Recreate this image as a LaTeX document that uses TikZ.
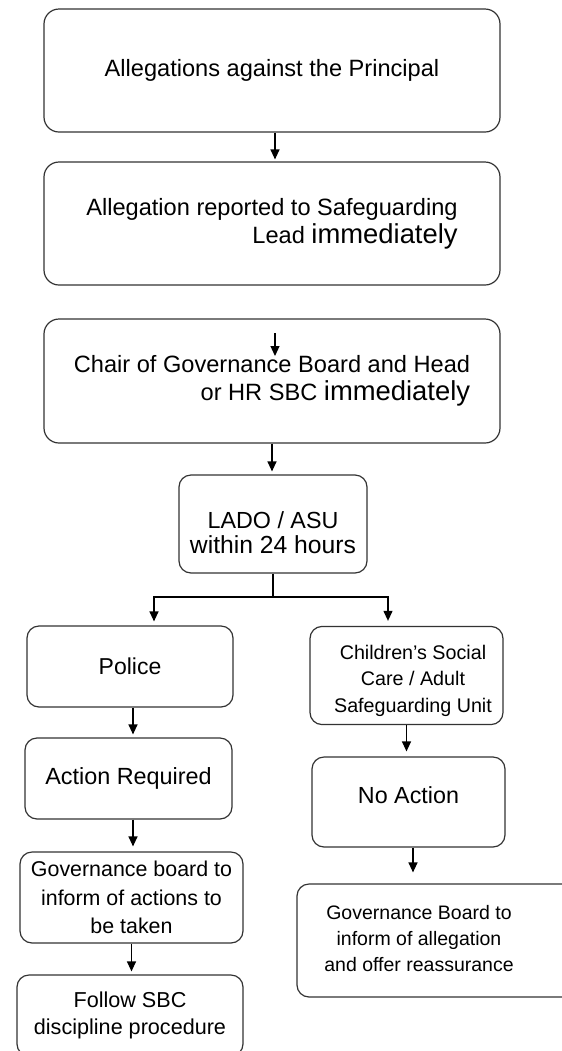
\documentclass[tikz,border=0pt]{standalone}
\usepackage{fontspec}
\setmainfont{Liberation Sans}
\usetikzlibrary{arrows.meta}

\newcommand{\immtext}{{\fontsize{13.7}{14}\selectfont immediately}}

\begin{document}
\begin{tikzpicture}[x=0.5pt,y=-0.5pt,
    flowbox/.style={draw=black!80, line width=0.6pt, rounded corners=6pt, align=center, inner sep=2pt, font=\fontsize{11.8}{14}\selectfont},
    arr/.style={-{Triangle[length=5pt,width=4.5pt]}, line width=0.6pt, shorten >=1pt}]
    \useasboundingbox (0,0) rectangle (562,1051);

    % main column
    \node[flowbox, minimum width=228pt, minimum height=61.5pt, rounded corners=7.5pt] (start) at (272,70.5) {Allegations against the Principal};
    \node[flowbox, minimum width=228pt, minimum height=61.5pt, rounded corners=7.5pt, align=right] (report) at (272,223.5) {Allegation reported to Safeguarding\\Lead \immtext};
    \node[flowbox, minimum width=228pt, minimum height=62pt, rounded corners=7.5pt, align=right] (chair) at (272,381) {Chair of Governance Board and Head\\or HR SBC \immtext};
    \node[flowbox, minimum width=94pt, minimum height=49pt, font=\fontsize{11.65}{12.5}\selectfont] (lado) at (273,524) {\rule{0pt}{17.5pt}LADO / ASU\\{\fontsize{12.35}{12.5}\selectfont within 24 hours}};

    % left branch
    \node[flowbox, minimum width=103pt, minimum height=40.5pt, font=\fontsize{11.5}{14}\selectfont] (police) at (130,666.5) {Police};
    \node[flowbox, minimum width=103.5pt, minimum height=40.5pt, font=\fontsize{11.7}{14}\selectfont] (actreq) at (128.5,778.5) {Action Required};
    \node[flowbox, minimum width=111.5pt, minimum height=45.5pt, font=\fontsize{10.7}{14.3}\selectfont] (govleft) at (131.5,897.5) {Governance board to\\inform of actions to\\be taken};
    \node[flowbox, minimum width=113pt, minimum height=40.5pt, font=\fontsize{10.8}{13.5}\selectfont] (follow) at (130,1015.5) {Follow SBC\\discipline procedure};

    % right branch
    \node[flowbox, minimum width=96.5pt, minimum height=47.5pt, font=\fontsize{9.85}{13.35}\selectfont] (social) at (406.5,675.5) {\hspace*{6.5pt}\begin{tabular}{@{}c@{}}\rule{0pt}{14.35pt}Children’s Social\\Care / Adult\\Safeguarding Unit\end{tabular}};
    \node[flowbox, minimum width=96.5pt, minimum height=45pt, text height=8.4pt, text depth=7pt, font=\fontsize{11.65}{14}\selectfont] (noaction) at (408.5,802) {No Action};
    \node[flowbox, minimum width=139pt, minimum height=56.5pt, font=\fontsize{9.75}{12.9}\selectfont] (govright) at (436,940.5) {\begin{tabular}{@{}c@{}}Governance Board to\\inform of allegation\\and offer reassurance\end{tabular}\hspace*{17pt}};

    \coordinate (chairIn) at (275,333);
    \coordinate (chairTxt) at (275,358);
    \coordinate (split) at (273,597);

    % connectors
    \draw[arr] ([xshift=1.5pt]start.south) -- ([xshift=1.5pt]start.south |- report.north);
    \draw[arr] (chairIn) -- (chairTxt);
    \draw[arr, shorten >=1.5pt] (chair.south) -- (chair.south |- lado.north);
    \draw[line width=0.6pt] (lado.south) -- (split);
    \draw[arr, shorten >=2pt] (split) -| ([xshift=12pt]police.north);
    \draw[arr, shorten >=2.5pt] (split) -| ([xshift=-9.25pt]social.north);
    \draw[arr, shorten >=1.5pt] ([xshift=1.5pt]police.south) -- ([xshift=1.5pt]police.south |- actreq.north);
    \draw[arr, shorten >=2.5pt] ([xshift=2.25pt]actreq.south) -- ([xshift=2.25pt]actreq.south |- govleft.north);
    \draw[arr, shorten >=1.5pt] (govleft.south) -- (govleft.south |- follow.north);
    \draw[arr, shorten >=2.5pt] (social.south) -- (social.south |- noaction.north);
    \draw[arr, shorten >=5.5pt] ([xshift=2.25pt]noaction.south) -- ([xshift=2.25pt]noaction.south |- govright.north);
\end{tikzpicture}
\end{document}
